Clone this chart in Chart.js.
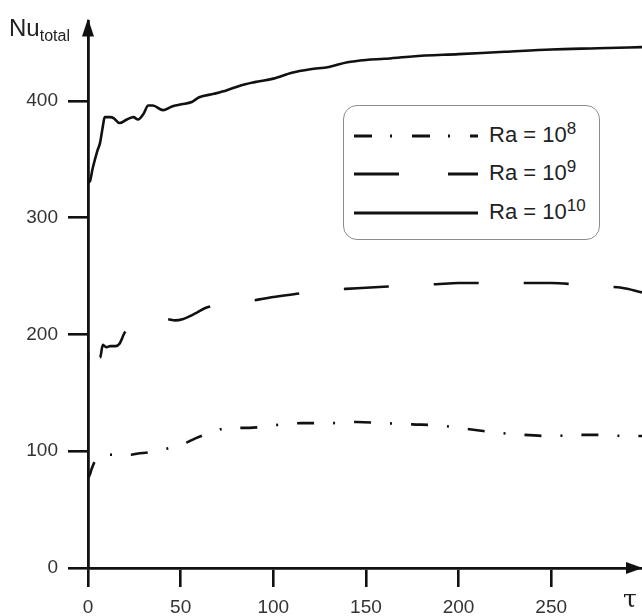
<!DOCTYPE html>
<html>
<head>
<meta charset="utf-8">
<script src="https://cdn.jsdelivr.net/npm/chart.js@4.4.1/dist/chart.umd.min.js"></script>
<style>
  body { margin: 0; background: #fff; }
  #wrap { position: relative; width: 642px; height: 616px; font-family: "Liberation Sans", Arial, sans-serif; }
  #ylab { position: absolute; left: 9px; top: 14px; font-size: 24px; color: #222; }
  #ylab sub { font-size: 16px; position: relative; top: 5px; vertical-align: baseline; }
  #xlab { position: absolute; left: 623px; top: 584px; font-size: 25px; color: #222; font-family: "DejaVu Serif", serif; }
  #legend { position: absolute; left: 343px; top: 105px; width: 255px; height: 133px; border: 1.5px solid #8c8c8c; border-radius: 14px; background: #fff; }
  .row { position: absolute; left: 0; height: 30px; width: 255px; }
  .row svg { position: absolute; left: 10px; top: 13px; }
  .row span { position: absolute; left: 145px; top: 1px; font-size: 22px; color: #222; white-space: nowrap; }
  .row sup { font-size: 17px; position: relative; top: -3px; vertical-align: top; }
</style>
</head>
<body>
<div id="wrap">
  <canvas id="chart" width="642" height="616"></canvas>
  <div id="ylab">Nu<sub>total</sub></div>
  <div id="xlab">τ</div>
  <div id="legend">
    <div class="row" style="top:15px"><svg width="124" height="4"><line x1="0" y1="2" x2="124" y2="2" stroke="#111" stroke-width="2.8" stroke-dasharray="18 18 2 20"/></svg><span>Ra = 10<sup>8</sup></span></div>
    <div class="row" style="top:53px"><svg width="124" height="4"><line x1="0" y1="2" x2="124" y2="2" stroke="#111" stroke-width="2.8" stroke-dasharray="45 49"/></svg><span>Ra = 10<sup>9</sup></span></div>
    <div class="row" style="top:92px"><svg width="124" height="4"><line x1="0" y1="2" x2="124" y2="2" stroke="#111" stroke-width="2.8"/></svg><span>Ra = 10<sup>10</sup></span></div>
  </div>
</div>
<script>
// values: dimensionless time tau vs total Nusselt number
var tau10 = [0, 1, 2.5, 5, 6.5, 8, 9, 12, 14, 17, 21, 24.5, 27, 30, 32.5, 35, 40.5, 45, 50.5, 56, 60, 68, 75, 82, 90, 100, 110, 120, 130, 140, 150, 160, 175, 200, 225, 250, 275, 299];
var nu10  = [330, 331, 342, 357, 364, 378, 386, 386, 385, 381, 384, 386, 384, 389, 396, 396, 392, 395, 397, 399, 403, 406, 409, 413, 416, 419, 424, 427, 429, 433, 435, 436, 438, 440, 442, 444, 445, 446];

var tau9 = [0, 0.4, 3, 6.5, 8, 10, 12, 15, 17, 20, 25, 30, 35, 42.5, 47, 51, 58, 64, 75, 89, 100, 114, 125, 139, 150, 162, 175, 188, 200, 214, 225, 237, 250, 262, 275, 288, 299];
var nu9  = [178, 200, 186, 180, 191, 189, 190, 190, 192, 202, 206, 209, 211, 213, 212, 213, 218, 223, 226, 229, 232, 235, 238, 239, 240, 241, 242, 243, 244, 244, 244, 244, 244, 243, 241, 240, 236];

var tau8 = [0, 1, 2, 4, 8, 12, 19, 23, 27, 33, 39, 45, 50, 54, 58, 63, 67.5, 72, 78, 82, 87, 95, 105, 115, 130, 145, 160, 175, 190, 200, 210, 220, 235, 250, 265, 276, 290, 299];
var nu8  = [77, 80, 85, 92, 97, 97, 98, 97, 98, 99, 101, 103, 105, 108, 111, 114, 116, 119, 121, 120, 120, 121, 123, 124, 124, 125, 124, 123, 122, 120, 118, 116, 114, 113, 114, 114, 113, 113];

var yTicks = [0, 100, 200, 300, 400];
var xTicks = [0, 50, 100, 150, 200, 250];

function pts(xs, ys) {
    return xs.map(function(x, i) { return {x: x, y: ys[i]}; });
}

// arrow heads at the ends of both axes
var arrows = {
    id: 'arrows',
    afterDraw: function(chart) {
        var c = chart.ctx, a = chart.chartArea;
        c.save();
        c.fillStyle = '#111';
        c.beginPath();
        c.moveTo(a.left, a.top - 3);
        c.lineTo(a.left - 6, a.top + 15);
        c.lineTo(a.left + 6, a.top + 15);
        c.closePath();
        c.fill();
        c.beginPath();
        c.moveTo(a.right + 1, a.bottom);
        c.lineTo(a.right - 16, a.bottom - 6);
        c.lineTo(a.right - 16, a.bottom + 6);
        c.closePath();
        c.fill();
        c.restore();
    }
};

var line = {borderColor: '#111', borderWidth: 2.6, pointRadius: 0, fill: false, cubicInterpolationMode: 'monotone'};

new Chart(document.getElementById('chart'), {
    type: 'line',
    data: {
        datasets: [
            Object.assign({label: 'Ra = 10^8', data: pts(tau8, nu8), borderDash: [17, 19, 2, 19]}, line),
            Object.assign({label: 'Ra = 10^9', data: pts(tau9, nu9), borderDash: [45, 45], borderDashOffset: 37}, line),
            Object.assign({label: 'Ra = 10^10', data: pts(tau10, nu10)}, line)
        ]
    },
    options: {
        responsive: false,
        animation: false,
        layout: {padding: {left: 0, top: 13, right: 0, bottom: 0}},
        plugins: {legend: {display: false}, tooltip: {enabled: false}},
        scales: {
            x: {
                type: 'linear', min: 0, max: 299,
                afterFit: function(s) { s.height = 48; },
                afterBuildTicks: function(s) { s.ticks = xTicks.map(function(v) { return {value: v}; }); },
                grid: {drawOnChartArea: false, drawTicks: true, tickLength: 19, color: '#111', lineWidth: 2.6},
                border: {color: '#111', width: 2.8},
                ticks: {padding: 9, color: '#333', font: {family: 'Liberation Sans', size: 19}, maxRotation: 0}
            },
            y: {
                type: 'linear', min: 0, max: 468,
                afterFit: function(s) { s.width = 88; },
                afterBuildTicks: function(s) { s.ticks = yTicks.map(function(v) { return {value: v}; }); },
                grid: {drawOnChartArea: false, drawTicks: true, tickLength: 20, color: '#111', lineWidth: 2.6},
                border: {color: '#111', width: 2.8},
                ticks: {padding: 10, color: '#333', font: {family: 'Liberation Sans', size: 19}}
            }
        }
    },
    plugins: [arrows]
});
</script>
</body>
</html>
